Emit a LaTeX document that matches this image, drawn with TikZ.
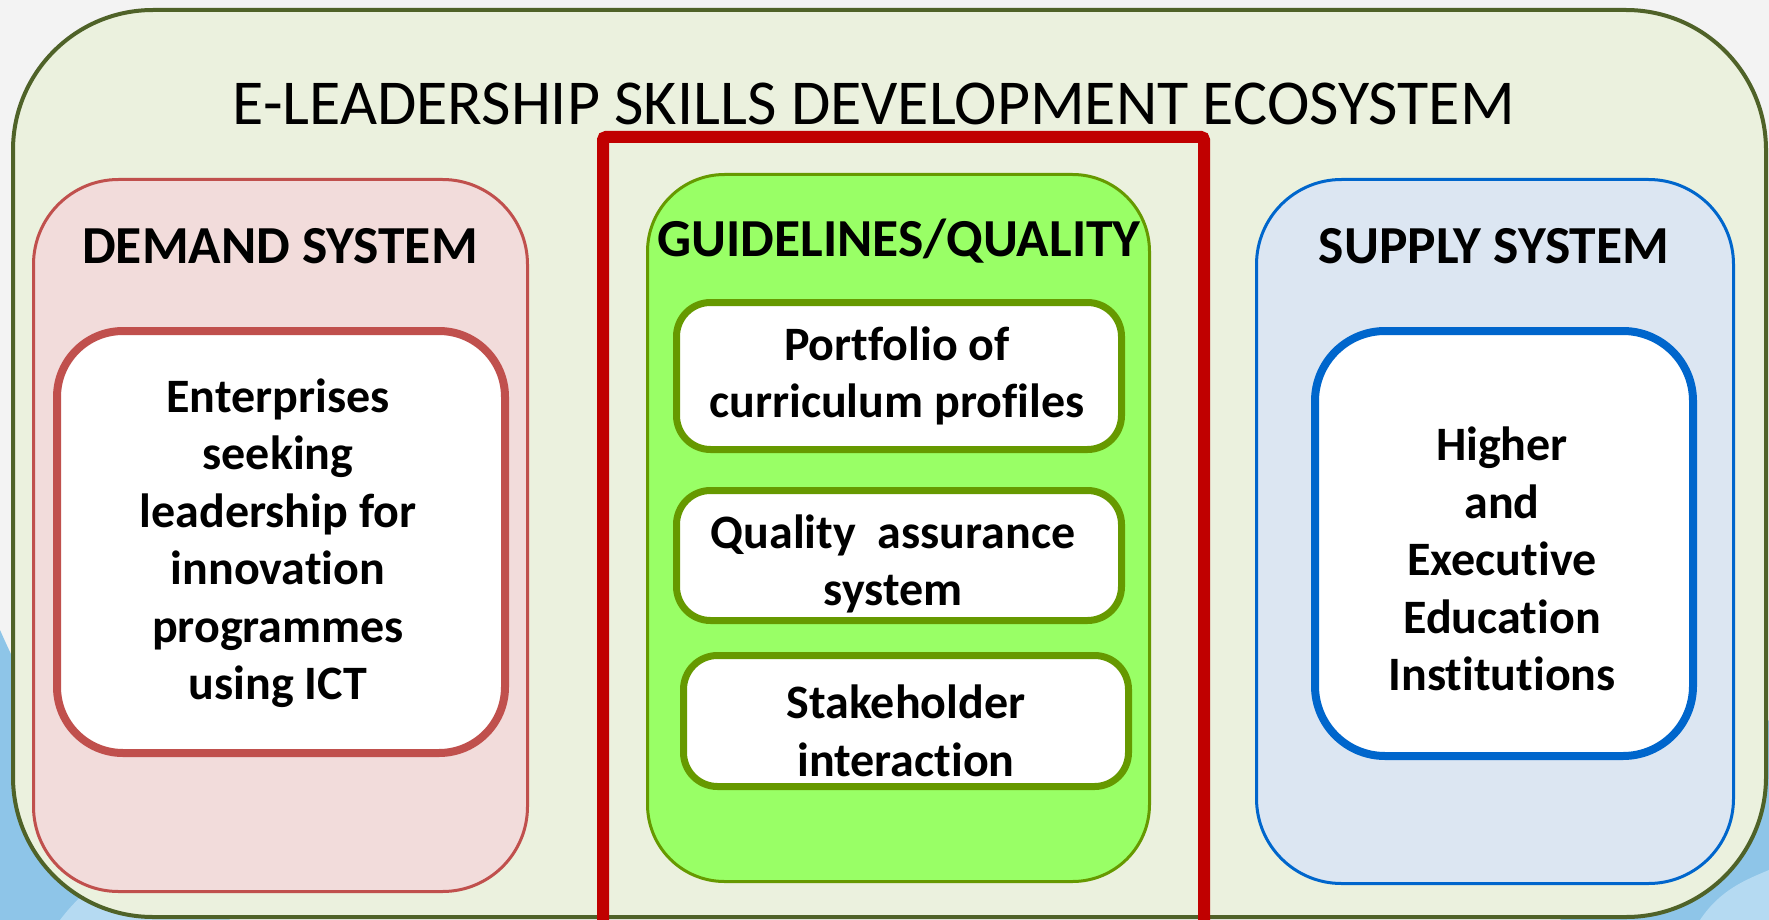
\documentclass[tikz,border=0pt]{standalone}
\usepackage{fontspec}
\setmainfont[Ligatures=NoCommon]{Carlito}
\definecolor{bgcol}{HTML}{F3F3F3}
\definecolor{swoosh}{HTML}{8EC5E8}
\definecolor{swooshlight}{HTML}{B5DAF2}
\definecolor{ecofill}{HTML}{EBF1DE}
\definecolor{ecoline}{HTML}{4F6228}
\definecolor{demfill}{HTML}{F2DCDB}
\definecolor{demline}{HTML}{C0504D}
\definecolor{supfill}{HTML}{DCE6F2}
\definecolor{supline}{HTML}{0066CC}
\definecolor{guifill}{HTML}{99FF66}
\definecolor{guiline}{HTML}{669900}
\definecolor{frame}{HTML}{C00000}
\begin{document}
\begin{tikzpicture}[x=1pt,y=-1pt,
  panel/.style={draw, inner sep=0pt, outer sep=0pt, rounded corners=#1},
  bodytext/.style={font=\bfseries\fontsize{48}{57.5}\selectfont, align=center, inner sep=0pt},
  headtext/.style={font=\bfseries\fontsize{53.5}{60}\selectfont, inner sep=0pt}]
\useasboundingbox (0,0) rectangle (1769,920);
\fill[bgcol] (0,0) rectangle (1769,920);
% slide background swooshes in the lower corners
\fill[swoosh] (0,630) .. controls (40,720) and (110,850) .. (190,920) -- (0,920) -- cycle;
\fill[swooshlight] (60,920) .. controls (90,880) and (130,860) .. (170,850) -- (230,920) -- cycle;
\fill[swoosh] (1769,720) -- (1769,920) -- (1560,920) -- cycle;
\fill[swooshlight] (1700,920) .. controls (1720,890) and (1745,880) .. (1769,870) -- (1769,920) -- cycle;

% ecosystem container
\node[panel=140, line width=4pt, draw=ecoline, fill=ecofill,
      minimum width=1753pt, minimum height=907pt] (eco) at (889.5,463.5) {};
\node[font=\fontsize{64}{70}\selectfont, inner sep=0pt] (ecotitle) at (874,104)
  {E-LEADERSHIP SKILLS DEVELOPMENT ECOSYSTEM};

% demand side
\node[panel=85, line width=3pt, draw=demline, fill=demfill,
      minimum width=494pt, minimum height=712pt] (demand) at (280.5,535.5) {};
\node[headtext] (demtitle) at (280,246) {DEMAND SYSTEM};
\node[panel=66, line width=8pt, draw=demline, fill=white,
      minimum width=448pt, minimum height=422pt] (ent) at (281,542) {};
\node[bodytext] (enttext) at (278,543) {Enterprises\\seeking\\leadership for\\innovation\\programmes\\using ICT};

% highlight frame around the guidelines column
\draw[frame, line width=12pt, rounded corners=3pt] (603,930) -- (603,137) -- (1204,137) -- (1204,930);

% guidelines / quality
\node[panel=77, line width=3pt, draw=guiline, fill=guifill,
      minimum width=502pt, minimum height=707pt] (guide) at (898.5,528) {};
\node[headtext] (guititle) at (899,241) {GUIDELINES/QUALITY};
\node[panel=34, line width=7pt, draw=guiline, fill=white,
      minimum width=445pt, minimum height=147pt] (port) at (899,376) {};
\node[bodytext] (porttext) at (897,376) {Portfolio of\\curriculum profiles};
\node[panel=34, line width=7pt, draw=guiline, fill=white,
      minimum width=445pt, minimum height=130pt] (qual) at (899,555.5) {};
\node[bodytext] (qualtext) at (893,564) {Quality\ \ assurance\\system};
\node[panel=34, line width=7pt, draw=guiline, fill=white,
      minimum width=445pt, minimum height=131pt] (stake) at (906,721) {};
\node[bodytext] (staketext) at (906,731) {Stakeholder\\interaction};

% supply side
\node[panel=85, line width=3pt, draw=supline, fill=supfill,
      minimum width=477pt, minimum height=704pt] (supply) at (1495,531.5) {};
\node[headtext] (suptitle) at (1494,246) {SUPPLY SYSTEM};
\node[panel=70, line width=8pt, draw=supline, fill=white,
      minimum width=378pt, minimum height=425pt] (inst) at (1504,543.5) {};
\node[bodytext] (insttext) at (1502,559) {Higher\\and\\Executive\\Education\\Institutions};
\end{tikzpicture}
\end{document}
